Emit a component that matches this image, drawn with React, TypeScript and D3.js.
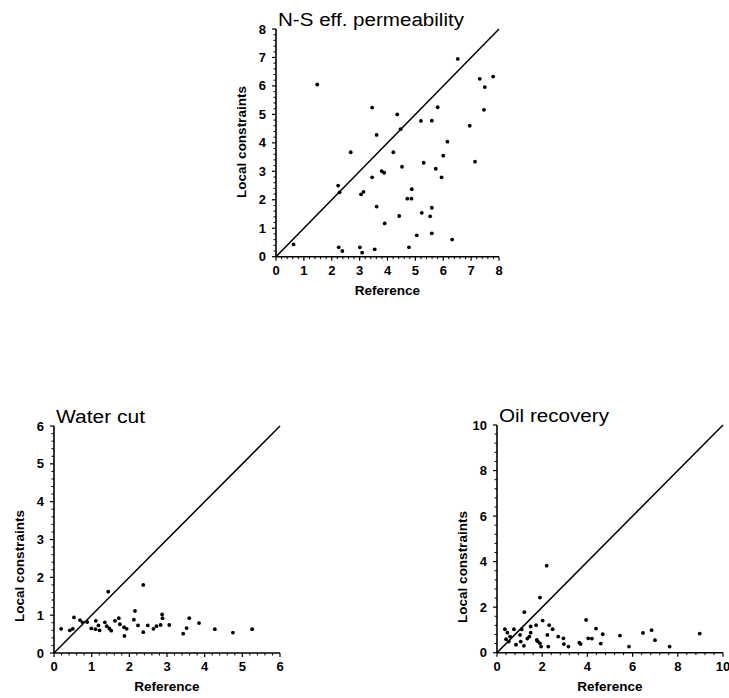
import React from "react";
import * as d3 from "d3";

// ---------- data ----------
const nsRef = [0.63, 1.48, 2.23, 2.28, 2.68, 2.25, 2.38, 3.01, 3.09, 3.05, 3.14, 3.45, 3.54, 3.61, 3.79, 3.88, 3.9, 4.21, 4.52, 6.15, 5.3, 6.0, 5.73, 5.94, 7.14, 4.87, 4.71, 4.86, 4.42, 5.23, 5.59, 5.53, 5.05, 5.59, 6.32, 4.77, 6.52, 7.31, 7.79, 7.49, 7.46, 6.95, 3.45, 4.35, 5.8, 5.2, 5.59, 3.61, 4.47];
const nsLocal = [0.43, 6.05, 2.5, 2.26, 3.67, 0.33, 0.2, 0.33, 0.14, 2.19, 2.28, 2.79, 0.26, 1.76, 3.01, 2.95, 1.17, 3.67, 3.16, 4.04, 3.3, 3.55, 3.09, 2.79, 3.34, 2.37, 2.04, 2.04, 1.43, 1.54, 1.72, 1.42, 0.75, 0.82, 0.6, 0.33, 6.95, 6.25, 6.33, 5.96, 5.16, 4.6, 5.24, 5.0, 5.25, 4.77, 4.78, 4.28, 4.48];

const wcRef = [0.19, 0.42, 0.5, 0.53, 0.69, 0.76, 0.88, 0.99, 1.11, 1.18, 1.21, 1.1, 1.35, 1.4, 1.47, 1.52, 1.44, 1.62, 1.72, 1.75, 1.86, 1.93, 1.87, 2.15, 2.12, 2.23, 2.37, 2.37, 2.49, 2.64, 2.72, 2.83, 2.87, 2.88, 3.06, 3.43, 3.52, 3.59, 3.85, 4.27, 4.75, 5.26];
const wcLocal = [0.64, 0.6, 0.64, 0.94, 0.87, 0.81, 0.82, 0.65, 0.85, 0.73, 0.6, 0.63, 0.81, 0.71, 0.65, 0.59, 1.62, 0.85, 0.92, 0.76, 0.68, 0.64, 0.45, 1.11, 0.88, 0.73, 1.8, 0.55, 0.73, 0.64, 0.71, 0.74, 1.02, 0.92, 0.74, 0.51, 0.66, 0.92, 0.79, 0.63, 0.54, 0.63];

const orRef = [0.35, 0.46, 0.4, 0.52, 0.58, 0.75, 0.84, 1.02, 1.05, 1.09, 1.19, 1.21, 1.34, 1.43, 1.49, 1.49, 1.73, 1.76, 1.8, 1.9, 1.9, 1.95, 2.02, 2.2, 2.23, 2.27, 2.31, 2.46, 2.71, 2.94, 2.96, 3.16, 3.64, 3.7, 3.94, 4.04, 4.2, 4.38, 4.59, 4.68, 5.44, 5.84, 6.46, 6.84, 6.99, 7.64, 8.97];
const orLocal = [1.03, 0.88, 0.59, 0.49, 0.71, 1.03, 0.35, 0.78, 0.49, 1.03, 0.3, 1.78, 0.62, 0.71, 0.88, 1.15, 1.21, 0.56, 0.5, 2.42, 0.41, 0.27, 1.41, 3.82, 0.78, 0.27, 1.21, 1.03, 0.71, 0.63, 0.38, 0.27, 0.44, 0.38, 1.44, 0.63, 0.62, 1.06, 0.4, 0.81, 0.75, 0.27, 0.87, 0.99, 0.55, 0.27, 0.84];

const nsTicks = [0, 1, 2, 3, 4, 5, 6, 7, 8];
const wcTicks = [0, 1, 2, 3, 4, 5, 6];
const orTicks = [0, 2, 4, 6, 8, 10];

const titles = ["N-S eff. permeability", "Water cut", "Oil recovery"];
const xTitle = "Reference";
const yTitle = "Local constraints";

// ---------- layout ----------
type PanelProps = {
  title: string;
  xs: number[];
  ys: number[];
  ticks: number[];
  minorStep: number;
  left: number;
  right: number;
  bottom: number;
  top: number;
  yTitleCenter: number;
  titleLen: number;
};

const FONT = "'Liberation Sans', Arial, Helvetica, sans-serif";

function Panel(p: PanelProps) {
  const max = p.ticks[p.ticks.length - 1];
  const x = d3.scaleLinear().domain([0, max]).range([p.left, p.right]);
  const y = d3.scaleLinear().domain([0, max]).range([p.bottom, p.top]);
  const minor = d3.range(0, max + 1e-9, p.minorStep).filter(
    (v) => !p.ticks.some((t) => Math.abs(t - v) < 1e-6)
  );
  const line = d3.line<number>().x((v) => x(v)).y((v) => y(v));
  return (
    <g>
      {/* axes */}
      <line x1={x(0)} x2={x(max)} y1={y(0)} y2={y(0)} stroke="#000" strokeWidth={1.6} />
      <line x1={x(0)} x2={x(0)} y1={y(0)} y2={y(max)} stroke="#000" strokeWidth={1.6} />
      {p.ticks.map((t) => (
        <g key={"mx" + t}>
          <line x1={x(t)} x2={x(t)} y1={y(0)} y2={y(0) + 4} stroke="#000" strokeWidth={1.2} />
          <line x1={x(0)} x2={x(0) - 4} y1={y(t)} y2={y(t)} stroke="#000" strokeWidth={1.2} />
          <text x={x(t)} y={y(0) + 18} textAnchor="middle" fontSize={13} fontWeight="bold" fontFamily={FONT}>
            {t}
          </text>
          <text x={x(0) - 10} y={y(t) + 4.5} textAnchor="end" fontSize={13} fontWeight="bold" fontFamily={FONT}>
            {t}
          </text>
        </g>
      ))}
      {minor.map((t, i) => (
        <g key={"mn" + i}>
          <line x1={x(t)} x2={x(t)} y1={y(0)} y2={y(0) + 2.5} stroke="#000" strokeWidth={1} />
          <line x1={x(0)} x2={x(0) - 2.5} y1={y(t)} y2={y(t)} stroke="#000" strokeWidth={1} />
        </g>
      ))}
      {/* diagonal */}
      <path d={line([0, max]) || ""} stroke="#000" strokeWidth={1.5} fill="none" />
      {/* points */}
      {p.xs.map((v, i) => (
        <circle key={i} cx={x(v)} cy={y(p.ys[i])} r={1.9} fill="#000" />
      ))}
      {/* titles */}
      <text
        x={x(0) + 2}
        y={y(max) - 3}
        fontSize={18}
        fontFamily={FONT}
        textLength={p.titleLen}
        lengthAdjust="spacingAndGlyphs"
      >
        {p.title}
      </text>
      <text
        x={(p.left + p.right) / 2}
        y={y(0) + 38}
        textAnchor="middle"
        fontSize={13.5}
        fontWeight="bold"
        fontFamily={FONT}
      >
        {xTitle}
      </text>
      <text
        transform={`translate(${x(0) - 30},${p.yTitleCenter}) rotate(-90)`}
        textAnchor="middle"
        fontSize={13.5}
        fontWeight="bold"
        fontFamily={FONT}
      >
        {yTitle}
      </text>
    </g>
  );
}

export default function App() {
  return (
    <svg
      width={729}
      height={698}
      viewBox="0 0 729 698"
      style={{ position: "absolute", left: 0, top: 0, background: "#fff" }}
    >
      <rect width={729} height={698} fill="#fff" />
      <Panel
        title={titles[0]}
        xs={nsRef}
        ys={nsLocal}
        ticks={nsTicks}
        minorStep={0.2}
        left={276}
        right={499}
        bottom={256.7}
        top={29}
        yTitleCenter={142}
        titleLen={186}
      />
      <Panel
        title={titles[1]}
        xs={wcRef}
        ys={wcLocal}
        ticks={wcTicks}
        minorStep={0.2}
        left={54}
        right={280}
        bottom={653}
        top={426}
        yTitleCenter={566}
        titleLen={89}
      />
      <Panel
        title={titles[2]}
        xs={orRef}
        ys={orLocal}
        ticks={orTicks}
        minorStep={0.4}
        left={497}
        right={723}
        bottom={652.7}
        top={425}
        yTitleCenter={567}
        titleLen={110}
      />
    </svg>
  );
}
